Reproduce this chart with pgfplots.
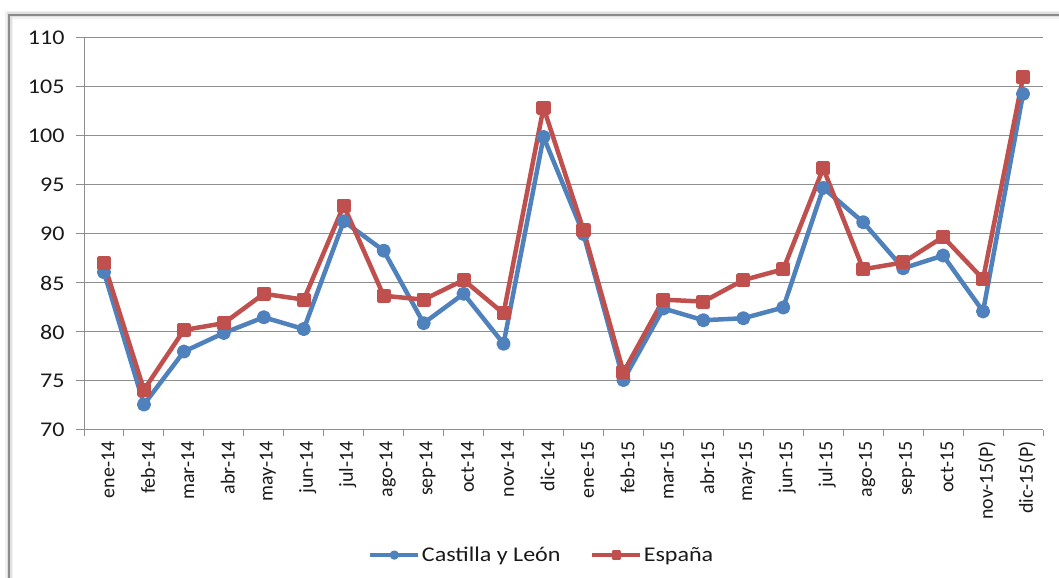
\documentclass[border=0pt]{standalone}
\usepackage{pgfplots}
\pgfplotsset{compat=1.18}
\usepackage{fontspec}
\setmainfont{Carlito}
\newfontfamily\wide[FakeStretch=1.15]{Carlito}
\definecolor{cyl}{HTML}{4F81BD}
\definecolor{esp}{HTML}{C0504D}
\definecolor{gridc}{HTML}{8E8E8E}
\definecolor{txt}{HTML}{1A1A1A}
\begin{document}
\begin{tikzpicture}[x=1bp,y=1bp]
\useasboundingbox (0,0) rectangle (1059,578);
\fill[white] (0,0) rectangle (1059,578);
% frame with soft shadow
\draw[line width=8bp, black!5] (9,-20) rectangle (1080,563);
\draw[line width=5bp, black!12] (9,-20) rectangle (1080,563);
\draw[line width=2.5bp, black!45] (9,-20) rectangle (1080,563);
\begin{axis}[
  at={(84bp,148bp)}, anchor=south west,
  scale only axis, width=959bp, height=392bp,
  xmin=-0.5, xmax=23.5, ymin=70, ymax=110,
  ytick={70,75,...,110},
  xtick={0,...,23},
  xticklabels={ene-14,feb-14,mar-14,abr-14,may-14,jun-14,jul-14,ago-14,sep-14,oct-14,nov-14,dic-14,ene-15,feb-15,mar-15,abr-15,may-15,jun-15,jul-15,ago-15,sep-15,oct-15,nov-15(P),dic-15(P)},
  minor xtick={-0.5,0.5,...,23.5},
  axis x line*=bottom, axis y line*=left,
  axis line style={-, gridc, line width=1bp},
  tick align=outside,
  major tick length=8bp, minor tick length=6bp,
  major x tick style={draw=none},
  minor x tick style={gridc, line width=1bp},
  major y tick style={gridc, line width=1bp},
  ymajorgrids, major grid style={gridc, line width=1bp},
  yticklabel style={font=\wide\fontsize{21}{24}\selectfont, text=txt, xshift=-8bp},
  xticklabel style={font=\fontsize{20}{24}\selectfont, text=txt, rotate=90, anchor=east, yshift=-4bp},
  /pgf/number format/assume math mode=true,
  legend style={at={(0.4776,-0.319)}, anchor=center, draw=none, fill=none,
    legend columns=2, font=\wide\fontsize{21}{24}\selectfont, text=txt,
    /tikz/every even column/.append style={column sep=28bp}},
  legend image code/.code={\draw[#1, line width=3.2bp, mark size=3bp, mark repeat=2, mark phase=2] plot coordinates {(0bp,0bp) (24bp,0bp) (48bp,0bp)};},
]
\addplot[cyl, line width=4.5bp, line join=round, mark=*, mark size=4.8bp] coordinates {
(0,86.1) (1,72.6) (2,78.0) (3,79.9) (4,81.5) (5,80.3) (6,91.3) (7,88.3)
(8,80.9) (9,83.9) (10,78.8) (11,99.9) (12,90.0) (13,75.1) (14,82.4) (15,81.2)
(16,81.4) (17,82.5) (18,94.7) (19,91.2) (20,86.5) (21,87.8) (22,82.1) (23,104.3)};
\addlegendentry{Castilla y León}
\addplot[esp, line width=4.5bp, line join=round, mark=square*, mark size=4.8bp] coordinates {
(0,87.0) (1,74.1) (2,80.2) (3,80.9) (4,83.9) (5,83.3) (6,92.9) (7,83.7)
(8,83.3) (9,85.3) (10,81.9) (11,102.9) (12,90.4) (13,75.9) (14,83.3) (15,83.1)
(16,85.3) (17,86.4) (18,96.7) (19,86.4) (20,87.1) (21,89.7) (22,85.4) (23,106.0)};
\addlegendentry{España}
\end{axis}
\end{tikzpicture}
\end{document}
